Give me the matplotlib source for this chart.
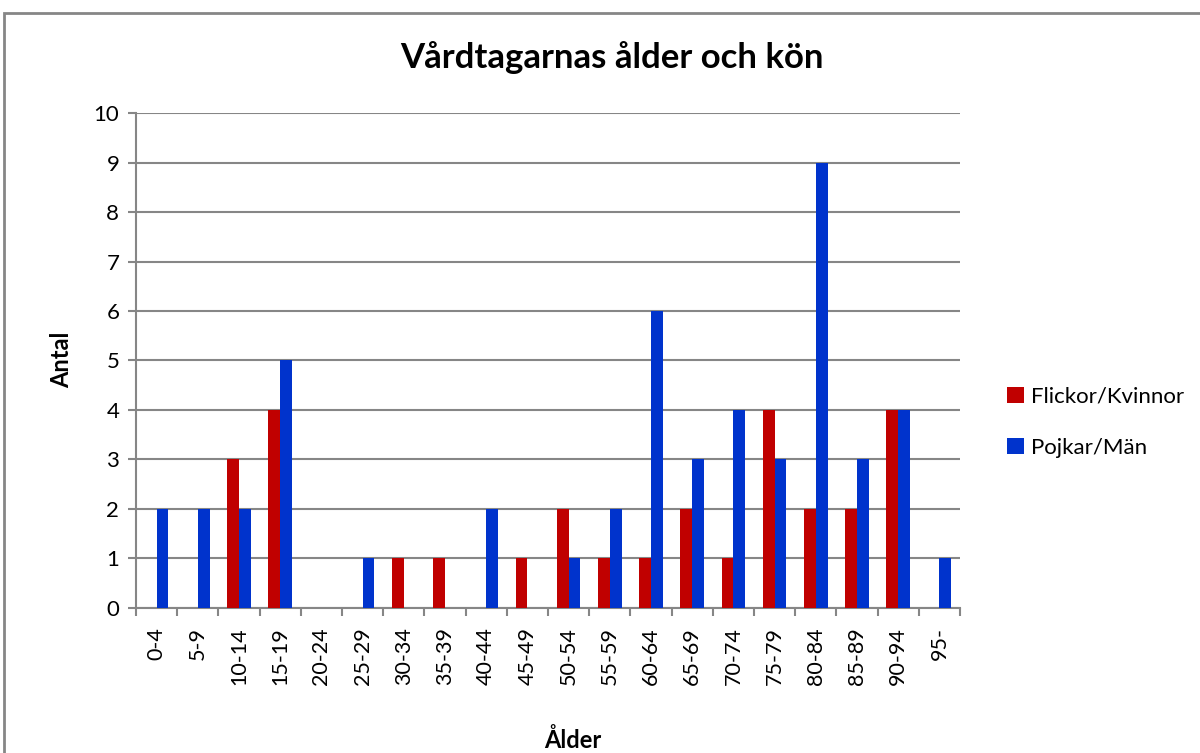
import matplotlib
matplotlib.use('Agg')
import matplotlib.pyplot as plt
from matplotlib.patches import Rectangle
import numpy as np

plt.rcParams['font.family'] = ['Lato', 'DejaVu Sans']

age_groups = ['0-4', '5-9', '10-14', '15-19', '20-24', '25-29', '30-34', '35-39',
              '40-44', '45-49', '50-54', '55-59', '60-64', '65-69', '70-74',
              '75-79', '80-84', '85-89', '90-94', '95-']
women = [0, 0, 3, 4, 0, 0, 1, 1, 0, 1, 2, 1, 1, 2, 1, 4, 2, 2, 4, 0]
men = [2, 2, 2, 5, 0, 1, 0, 0, 2, 0, 1, 2, 6, 3, 4, 3, 9, 3, 4, 1]

fig = plt.figure(figsize=(12, 7.53), dpi=100)
ax = fig.add_axes([0.1133, 0.1926, 0.6867, 0.6573])

x = np.arange(len(age_groups))
w = 1 / 3.5
ax.bar(x - w / 2, women, w, color='#C00000', label='Flickor/Kvinnor', zorder=3)
ax.bar(x + w / 2, men, w, color='#0033CC', label='Pojkar/Män', zorder=3)

ax.set_xlim(-0.5, len(age_groups) - 0.5)
ax.set_ylim(0, 10)
ax.set_yticks(range(0, 11))
ax.set_xticks(x)
ax.set_xticklabels(age_groups, rotation=90, fontsize=15.5)
ax.set_xticks(np.arange(-0.5, len(age_groups)), minor=True)
ax.tick_params(axis='x', which='major', length=0, pad=14)
ax.tick_params(axis='x', which='minor', length=6, width=1.5, color='#868686')
ax.tick_params(axis='y', length=6, width=1.5, color='#868686', labelsize=16, pad=6)
ax.grid(axis='y', color='#868686', linewidth=1.5, zorder=0)

for side in ['top', 'right']:
    ax.spines[side].set_visible(False)
for side in ['left', 'bottom']:
    ax.spines[side].set_color('#868686')
    ax.spines[side].set_linewidth(1.5)

fig.text(612 / 1200, 1 - 58 / 753, 'Vårdtagarnas ålder och kön', fontsize=25,
         fontweight='bold', ha='center', va='center')
fig.text(62 / 1200, 1 - 360 / 753, 'Antal', fontsize=17, fontweight='bold',
         rotation=90, ha='center', va='center')
fig.text(573 / 1200, 1 - 740 / 753, 'Ålder', fontsize=17, fontweight='bold',
         ha='center', va='center')

ax.legend(loc='center left', bbox_to_anchor=(1.033, 0.375), frameon=False,
          fontsize=16, handlelength=0.75, handleheight=0.75, handletextpad=0.3,
          labelspacing=1.4)

fig.patches.append(Rectangle((4 / 1200, -0.05), 1.2, 1 - 13 / 753 + 0.05,
                             transform=fig.transFigure, fill=False,
                             edgecolor='#868686', linewidth=2))

fig.savefig('out.png', dpi=100)
